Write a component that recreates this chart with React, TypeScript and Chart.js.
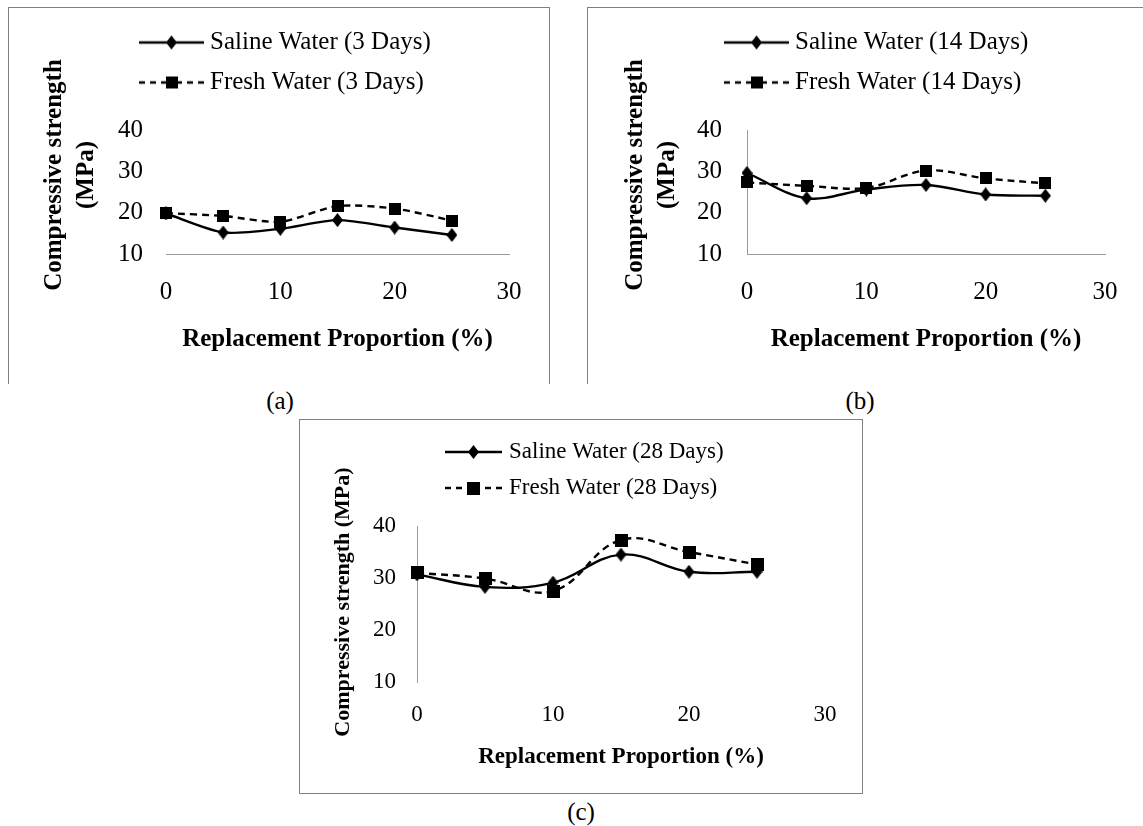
import React, { useEffect, useRef } from 'react';
import { Chart, registerables } from 'chart.js';

Chart.register(...registerables);

// ---------------- data ----------------
const replacement = [0, 5, 10, 15, 20, 25];
const xTickValues = [0, 10, 20, 30];
const yTickValues = [10, 20, 30, 40];

const saline3Days = [19.8, 15.2, 16.1, 18.2, 16.4, 14.6];
const fresh3Days = [19.9, 19.2, 17.8, 21.6, 21.0, 18.1];
const saline14Days = [29.6, 23.5, 25.6, 26.7, 24.4, 24.1];
const fresh14Days = [27.3, 26.5, 26.0, 30.2, 28.3, 27.1];
const saline28Days = [30.7, 28.3, 29.1, 34.5, 31.2, 31.2];
const fresh28Days = [31.0, 29.9, 27.5, 37.3, 35.0, 32.6];

const labels3 = ['Saline Water (3 Days)', 'Fresh Water (3 Days)'];
const labels14 = ['Saline Water (14 Days)', 'Fresh Water (14 Days)'];
const labels28 = ['Saline Water (28 Days)', 'Fresh Water (28 Days)'];

const xTitle = 'Replacement Proportion (%)';
const yTitleTwoLines = ['Compressive strength', '(MPa)'];
const yTitleOneLine = 'Compressive strength (MPa)';

// ---------------- styling ----------------
const FONT = '"Liberation Serif", "Times New Roman", serif';
const AXIS = '#9a9a9a';
const FRAME = '#808080';
const LINE_W = 2.4;

function makeMarker(kind: string, w: number, h: number): HTMLCanvasElement {
  const c = document.createElement('canvas');
  c.width = w;
  c.height = h;
  const g = c.getContext('2d') as CanvasRenderingContext2D;
  g.fillStyle = '#000';
  g.beginPath();
  if (kind === 'diamond') {
    g.moveTo(w / 2, 0);
    g.lineTo(w, h / 2);
    g.lineTo(w / 2, h);
    g.lineTo(0, h / 2);
    g.closePath();
  } else {
    g.rect(0, 0, w, h);
  }
  g.fill();
  return c;
}

function makeLegendIcon(marker: HTMLCanvasElement, dashed: boolean, width: number): HTMLCanvasElement {
  const h = 16;
  const c = document.createElement('canvas');
  c.width = width;
  c.height = h;
  const g = c.getContext('2d') as CanvasRenderingContext2D;
  g.strokeStyle = '#000';
  g.lineWidth = LINE_W;
  const mid = h / 2;
  if (dashed) {
    g.setLineDash([6, 5]);
    g.beginPath();
    g.moveTo(0, mid);
    g.lineTo(width / 2, mid);
    g.stroke();
    g.beginPath();
    g.moveTo(width, mid);
    g.lineTo(width / 2, mid);
    g.stroke();
    g.setLineDash([]);
  } else {
    g.beginPath();
    g.moveTo(0, mid);
    g.lineTo(width, mid);
    g.stroke();
  }
  g.drawImage(marker, (width - marker.width) / 2, (h - marker.height) / 2);
  return c;
}

type Spec = {
  left: number; top: number; width: number; height: number;
  padTop: number; padRight: number;
  legendFont: number; legendPad: number; legendBox: number; legendIconW: number;
  legendExtra: number; legendDx: number;
  tickFont: number; xTickPad: number; xHeight: number; xTitleFont: number; xTitleBottom: number;
  yWidth: number; yTickPad: number; yTitleFont: number; yTitleLH: number; yTitlePadTop: number; yTitleDy: number;
  yTitle: string | string[];
  showX: boolean; showY: boolean; tension: number; squareSize: number;
  labels: string[]; saline: number[]; fresh: number[];
};

const specA: Spec = {
  left: 9, top: 8, width: 538, height: 374,
  padTop: 7, padRight: 27,
  legendFont: 25, legendPad: 15, legendBox: 52, legendIconW: 65, legendExtra: 25, legendDx: 121.5,
  tickFont: 25, xTickPad: 25.5, xHeight: 128, xTitleFont: 25, xTitleBottom: 29.5,
  yWidth: 157, yTickPad: 23, yTitleFont: 25, yTitleLH: 1.28, yTitlePadTop: 30, yTitleDy: -17,
  yTitle: yTitleTwoLines,
  showX: true, showY: false, tension: 0.25, squareSize: 12,
  labels: labels3, saline: saline3Days, fresh: fresh3Days,
};

const specB: Spec = {
  left: 589, top: 8, width: 554, height: 374,
  padTop: 7, padRight: 31,
  legendFont: 25, legendPad: 15, legendBox: 52, legendIconW: 65, legendExtra: 25, legendDx: 126.5,
  tickFont: 25, xTickPad: 25.5, xHeight: 128, xTitleFont: 25, xTitleBottom: 29.5,
  yWidth: 158, yTickPad: 25, yTitleFont: 25, yTitleLH: 1.28, yTitlePadTop: 31, yTitleDy: -17,
  yTitle: yTitleTwoLines,
  showX: true, showY: true, tension: 0.35, squareSize: 12,
  labels: labels14, saline: saline14Days, fresh: fresh14Days,
};

const specC: Spec = {
  left: 300, top: 420, width: 562, height: 373,
  padTop: 7.5, padRight: 37,
  legendFont: 23, legendPad: 13, legendBox: 48, legendIconW: 57, legendExtra: 16.5, legendDx: 136.5,
  tickFont: 23, xTickPad: 21.8, xHeight: 111, xTitleFont: 23, xTitleBottom: 24.5,
  yWidth: 117, yTickPad: 21, yTitleFont: 22, yTitleLH: 1, yTitlePadTop: 32, yTitleDy: -2,
  yTitle: yTitleOneLine,
  showX: false, showY: true, tension: 0.4, squareSize: 13,
  labels: labels28, saline: saline28Days, fresh: fresh28Days,
};

function buildConfig(spec: Spec): any {
  const diamond = makeMarker('diamond', 11, 14);
  const square = makeMarker('square', spec.squareSize, spec.squareSize);
  const icons = [
    makeLegendIcon(diamond, false, spec.legendIconW),
    makeLegendIcon(square, true, spec.legendIconW),
  ];

  const tweaks = {
    id: 'tweaks',
    beforeInit(chart: any) {
      const legend = chart.legend;
      if (!legend) return;
      const fit = legend.fit;
      legend.fit = function () {
        fit.call(this);
        this.height += spec.legendExtra;
      };
      const draw = legend.draw;
      legend.draw = function (...args: any[]) {
        const c = this.ctx;
        c.save();
        c.translate(spec.legendDx, 0);
        draw.apply(this, args);
        c.restore();
      };
    },
    afterLayout(chart: any) {
      const s = chart.scales.y;
      if (s && !s.__shifted) {
        const orig = s.drawTitle;
        s.drawTitle = function () {
          const c = this.ctx;
          c.save();
          c.translate(0, spec.yTitleDy);
          orig.call(this);
          c.restore();
        };
        s.__shifted = true;
      }
    },
  };

  return {
    type: 'line',
    data: {
      datasets: [
        {
          label: spec.labels[0],
          data: replacement.map((x, i) => ({ x, y: spec.saline[i] })),
          borderColor: '#000',
          backgroundColor: '#000',
          borderWidth: LINE_W,
          tension: spec.tension,
          pointStyle: diamond,
          pointRadius: 6,
          clip: false,
          fill: false,
        },
        {
          label: spec.labels[1],
          data: replacement.map((x, i) => ({ x, y: spec.fresh[i] })),
          borderColor: '#000',
          backgroundColor: '#000',
          borderWidth: LINE_W,
          borderDash: [7, 5],
          tension: spec.tension,
          pointStyle: square,
          pointRadius: 6,
          clip: false,
          fill: false,
        },
      ],
    },
    options: {
      animation: false,
      responsive: false,
      events: [],
      layout: { padding: { left: 0, right: spec.padRight, top: spec.padTop, bottom: 0 } },
      plugins: {
        tooltip: { enabled: false },
        legend: {
          display: true,
          position: 'top',
          align: 'start',
          labels: {
            usePointStyle: true,
            pointStyleWidth: spec.legendBox,
            padding: spec.legendPad,
            color: '#000',
            font: { family: FONT, size: spec.legendFont },
            generateLabels: (chart: any) =>
              (Chart as any).defaults.plugins.legend.labels
                .generateLabels(chart)
                .map((item: any, i: number) => ({ ...item, pointStyle: icons[i] })),
          },
        },
      },
      scales: {
        x: {
          type: 'linear',
          min: xTickValues[0],
          max: xTickValues[xTickValues.length - 1],
          afterBuildTicks: (s: any) => {
            s.ticks = xTickValues.map((v) => ({ value: v }));
          },
          afterFit: (s: any) => {
            s.height = spec.xHeight;
          },
          grid: { display: false, drawTicks: false },
          border: { display: spec.showX, color: AXIS, width: 1 },
          ticks: {
            padding: spec.xTickPad,
            color: '#000',
            autoSkip: false,
            maxRotation: 0,
            font: { family: FONT, size: spec.tickFont, lineHeight: 1 },
          },
          title: {
            display: true,
            text: xTitle,
            color: '#000',
            font: { family: FONT, size: spec.xTitleFont, weight: 'bold', lineHeight: 1 },
            padding: { top: 0, bottom: spec.xTitleBottom },
          },
        },
        y: {
          type: 'linear',
          min: yTickValues[0],
          max: yTickValues[yTickValues.length - 1],
          afterBuildTicks: (s: any) => {
            s.ticks = yTickValues.map((v) => ({ value: v }));
          },
          afterFit: (s: any) => {
            s.width = spec.yWidth;
          },
          grid: { display: false, drawTicks: false },
          border: { display: spec.showY, color: AXIS, width: 1 },
          ticks: {
            padding: spec.yTickPad,
            color: '#000',
            font: { family: FONT, size: spec.tickFont, lineHeight: 1 },
          },
          title: {
            display: true,
            text: spec.yTitle,
            color: '#000',
            font: { family: FONT, size: spec.yTitleFont, weight: 'bold', lineHeight: spec.yTitleLH },
            padding: { top: spec.yTitlePadTop, bottom: 0 },
          },
        },
      },
    },
    plugins: [tweaks],
  };
}

function ChartPanel({ spec }: { spec: Spec }) {
  const ref = useRef<HTMLCanvasElement>(null);
  useEffect(() => {
    const canvas = ref.current;
    if (!canvas) return;
    const chart = new Chart(canvas, buildConfig(spec));
    return () => chart.destroy();
  }, [spec]);
  return (
    <canvas
      ref={ref}
      width={spec.width}
      height={spec.height}
      style={{ position: 'absolute', left: spec.left, top: spec.top, width: spec.width, height: spec.height }}
    />
  );
}

const captionStyle = (cx: number, cy: number): React.CSSProperties => ({
  position: 'absolute',
  left: cx - 30,
  top: cy - 14,
  width: 60,
  textAlign: 'center',
  fontFamily: FONT,
  fontSize: 25,
  lineHeight: '28px',
  color: '#000',
});

export default function App() {
  return (
    <div
      style={{
        position: 'absolute',
        left: 0,
        top: 0,
        width: 1143,
        height: 826,
        overflow: 'hidden',
        background: '#fff',
      }}
    >
      <div
        style={{
          position: 'absolute', left: 8, top: 7, width: 540, height: 376,
          borderTop: `1px solid ${FRAME}`, borderLeft: `1px solid ${FRAME}`, borderRight: `1px solid ${FRAME}`,
        }}
      />
      <div
        style={{
          position: 'absolute', left: 587, top: 7, width: 560, height: 376,
          borderTop: `1px solid ${FRAME}`, borderLeft: `1px solid ${FRAME}`,
        }}
      />
      <div
        style={{
          position: 'absolute', left: 299, top: 419, width: 562, height: 373,
          border: `1px solid ${FRAME}`,
        }}
      />
      <ChartPanel spec={specA} />
      <ChartPanel spec={specB} />
      <ChartPanel spec={specC} />
      <div style={captionStyle(280, 401)}>(a)</div>
      <div style={captionStyle(860, 401)}>(b)</div>
      <div style={captionStyle(581, 812)}>(c)</div>
    </div>
  );
}
